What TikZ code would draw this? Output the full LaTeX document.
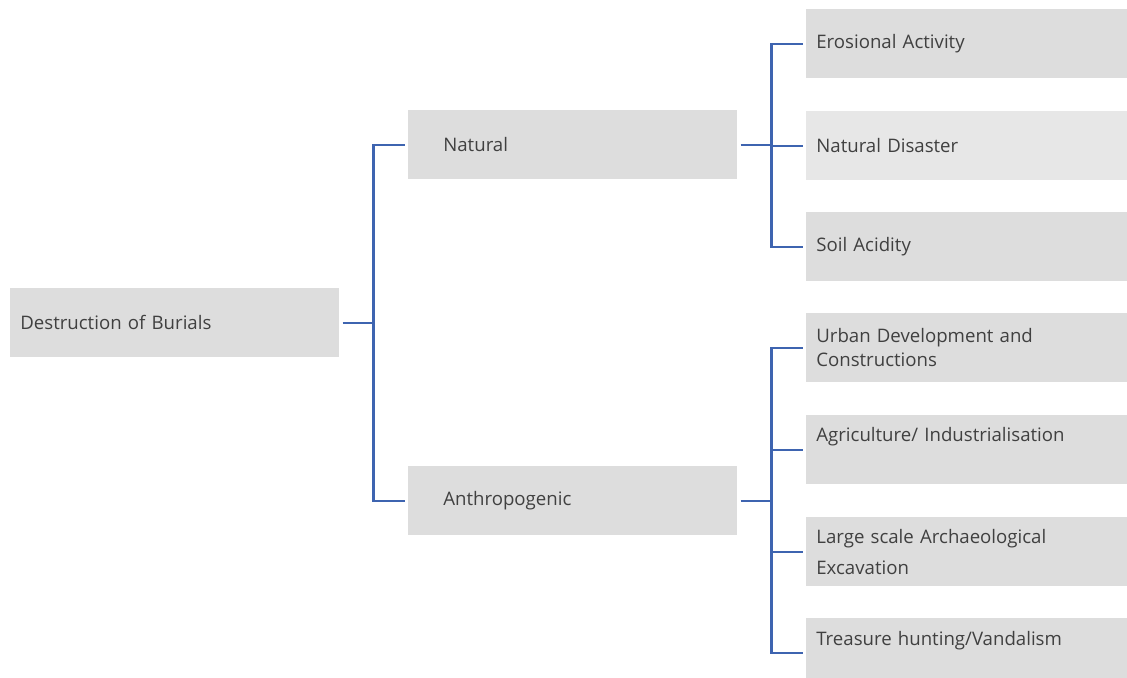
\documentclass[tikz,border=0pt]{standalone}
\usepackage{fontspec}
\setmainfont{Open Sans}
\usepackage{xcolor}
\usepackage{tikz}
\usetikzlibrary{positioning}
\definecolor{boxgray}{RGB}{221,221,221}
\definecolor{boxlight}{RGB}{231,231,231}
\definecolor{linkblue}{RGB}{62,100,176}
\definecolor{textgray}{RGB}{64,64,64}

\begin{document}
\begin{tikzpicture}[x=0.02cm, y=-0.02cm,
    basebox/.style={rectangle, fill=boxgray, anchor=north west, minimum height=1.38cm, align=left,
      text=textgray, font=\fontsize{10.6}{13.6}\selectfont, inner ysep=0pt},
    rootbox/.style={basebox, inner xsep=0.2cm, text width=6.18cm},
    groupbox/.style={basebox, inner xsep=0.7cm, text width=5.18cm},
    leafbox/.style={basebox, inner xsep=0.2cm, text width=6.2cm},
    branch/.style={draw=linkblue, line width=1.3pt}]
  \useasboundingbox (0,0) rectangle (1127,677);
  % root and the two groups
  \node[rootbox] (root) at (10,288) {Destruction of Burials};
  \node[groupbox] (natural) at (408,110) {Natural};
  \node[groupbox] (anthro) at (408,466) {Anthropogenic};
  % leaves of Natural
  \node[leafbox] (erosion) at (806,9) {Erosional Activity};
  \node[leafbox, fill=boxlight] (disaster) at (806,111) {Natural Disaster};
  \node[leafbox] (soil) at (806,212) {Soil Acidity};
  % leaves of Anthropogenic
  \node[leafbox] (urban) at (806,313) {Urban Development and\\Constructions};
  \node[leafbox] (agri) at (806,415) {Agriculture/ Industrialisation\\\strut};
  \node[leafbox] (excav) at (806,517) {Large scale Archaeological\\[4.4pt]Excavation};
  \node[leafbox] (treasure) at (806,618) {Treasure hunting/Vandalism\\[-1pt]\strut};
  % connectors
  \path[branch] ([xshift=0.06cm]root.east) -- ++(31,0) coordinate (rj);
  \path[branch] (rj) |- ([xshift=-0.06cm]natural.west);
  \path[branch] (rj) |- ([xshift=-0.06cm]anthro.west);
  \path[branch] ([xshift=0.06cm]natural.east) -- ++(31,0) coordinate (nj);
  \foreach \leaf in {erosion, disaster, soil}
    \path[branch] (nj) |- ([xshift=-0.06cm]\leaf.west);
  \path[branch] ([xshift=0.06cm]anthro.east) -- ++(31,0) coordinate (aj);
  \foreach \leaf in {urban, agri, excav, treasure}
    \path[branch] (aj) |- ([xshift=-0.06cm]\leaf.west);
\end{tikzpicture}
\end{document}
